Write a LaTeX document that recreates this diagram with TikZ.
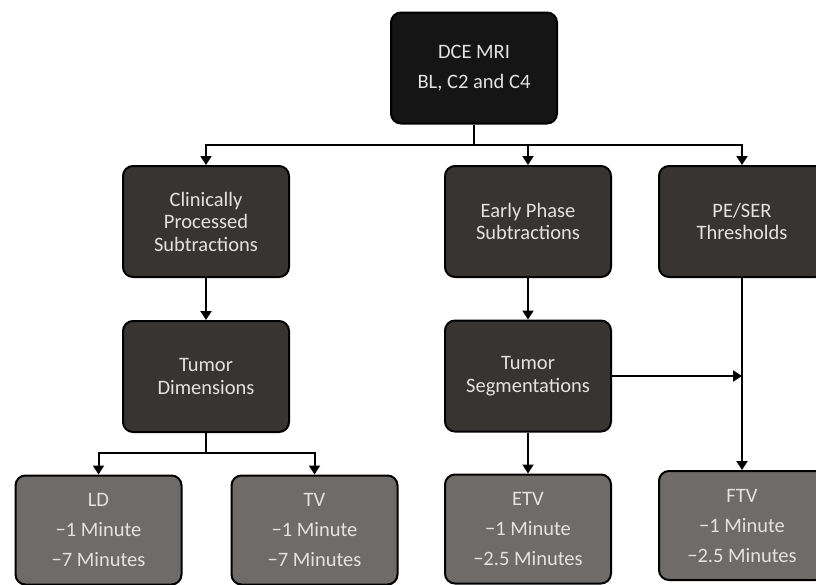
\documentclass[tikz,border=0pt]{standalone}
\usepackage{fontspec}
\setmainfont{Carlito}
\usetikzlibrary{arrows.meta,positioning}
\definecolor{boxdark}{HTML}{383432}
\definecolor{boxblack}{HTML}{151515}
\definecolor{boxgray}{HTML}{6F6B69}
\definecolor{boxtext}{HTML}{E2E2E2}

\begin{document}
\begin{tikzpicture}[x=1pt,y=-1pt,>={Triangle[width=11pt,length=9pt]},
    line width=2pt]
  \tikzstyle{stage}=[rectangle,rounded corners=10pt,draw=black,fill=boxdark,
              text=boxtext,font=\fontsize{20.5}{22.5}\selectfont,align=center,
              minimum width=166pt,minimum height=111pt,inner sep=2pt]
  \tikzstyle{source}=[stage,fill=boxblack]
  \tikzstyle{result}=[stage,fill=boxgray,minimum height=109pt]
  \clip (0,0) rectangle (816,584);
    \node [source] (dce) at (474,68) {DCE MRI\\[7.5pt]BL, C2 and C4};
    \node [stage] (cps) at (206,221.5) {Clinically\\Processed\\Subtractions};
    \node [stage] (eps) at (528,221.5) {Early Phase\\Subtractions};
    \node [stage] (thr) at (742,221.5) {PE/SER\\Thresholds};
    \node [stage] (tdim) at (206,376.5) {Tumor\\Dimensions};
    \node [stage] (tseg) at (528,376) {Tumor\\Segmentations};
    \node [result] (ld) at (98.5,530) {LD\\[7.5pt]−1 Minute\\[7.5pt]−7 Minutes};
    \node [result] (tv) at (314.5,530) {TV\\[7.5pt]−1 Minute\\[7.5pt]−7 Minutes};
    \node [result] (etv) at (528,529) {ETV\\[7.5pt]−1 Minute\\[7.5pt]−2.5 Minutes};
    \node [result] (ftv) at (742,525.5) {FTV\\[7.5pt]−1 Minute\\[7.5pt]−2.5 Minutes};
  % top bus
  \draw (dce.south) -- ++(0,20) coordinate (bus);
  \draw [->] (bus) -| (cps.north);
  \draw [->] (bus) -| (thr.north);
  \draw [->] (bus -| eps.north) -- (eps.north);
  % left branch
  \draw [->] (cps) -- (tdim);
  \draw (tdim.south) -- ++(0,20) coordinate (split);
  \draw [->] (split) -| (ld.north);
  \draw [->] (split) -| (tv.north);
  % middle and right
  \draw [->] (eps) -- (tseg);
  \draw [->] (tseg) -- (etv);
  \draw [->] (thr) -- (ftv);
  \draw [->] (tseg.east) -- (tseg.east -| thr.south);
\end{tikzpicture}
\end{document}
